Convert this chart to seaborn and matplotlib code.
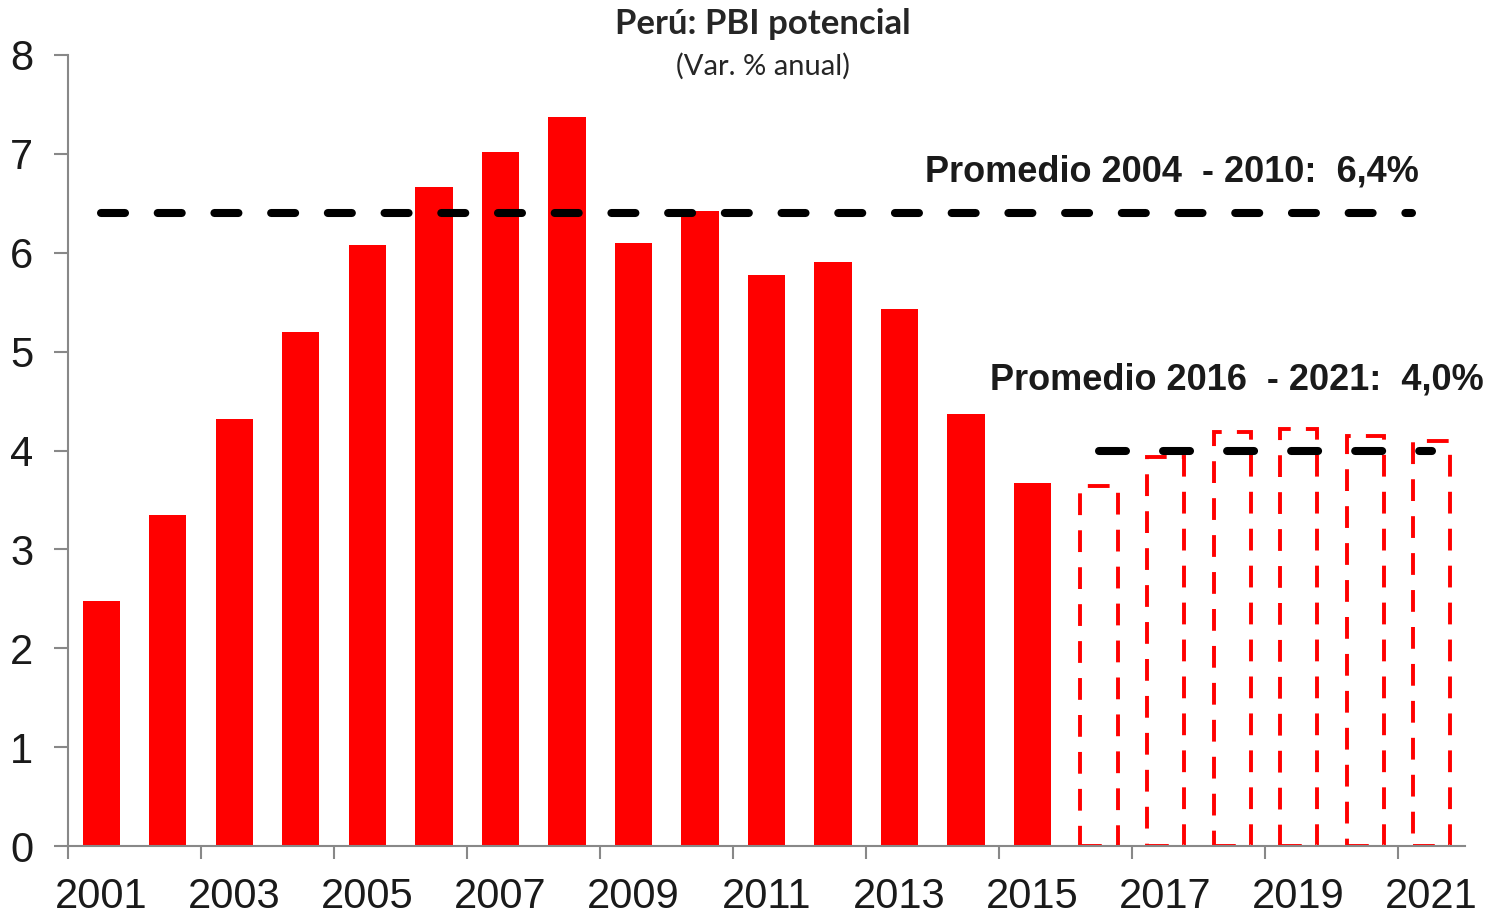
import matplotlib
matplotlib.use("Agg")
import matplotlib.pyplot as plt
import seaborn as sns
import pandas as pd
import numpy as np

years = [str(y) for y in range(2001, 2022)]
valores = [2.48, 3.35, 4.32, 5.20, 6.08, 6.67, 7.02, 7.37, 6.10, 6.42,
           5.77, 5.91, 5.43, 4.37, 3.67, 3.64, 3.93, 4.19, 4.22, 4.15, 4.10]
proyectado = [False] * 15 + [True] * 6

# averages: (start year, end year, value, label)
prom_1 = (2001, 2020.7, 6.4, "Promedio 2004  - 2010:  6,4%")
prom_2 = (2016, 2021, 4.0, "Promedio 2016  - 2021:  4,0%")

df = pd.DataFrame({"year": years, "valor": valores, "proy": proyectado})

sns.set_theme(style="white")
plt.rcParams['font.family'] = ['Liberation Sans', 'DejaVu Sans']

fig = plt.figure(figsize=(14.89, 9.16), dpi=100)
ax = fig.add_axes([68/1489, 1-846/916, (1465-68)/1489, (846-55)/916])

sns.barplot(data=df, x="year", y="valor", color="#FF0000", saturation=1,
            width=0.56, ax=ax, order=years)

for patch, p in zip(ax.patches, proyectado):
    patch.set_linewidth(0)
    if p:
        patch.set_facecolor("none")
        patch.set_edgecolor("#FF0000")
        patch.set_linewidth(2.8)
        patch.set_linestyle((0, (5.6, 3.9)))

first = int(years[0])
styles = [(0, (2.98, 4.06)), (0, (3.35, 4.6))]
for (y0, y1, v, lab), tx, ty, ls in [(prom_1, 19.8, 6.82, styles[0]),
                                     (prom_2, 20.78, 4.71, styles[1])]:
    ax.plot([y0 - first, y1 - first], [v, v], color="black", lw=5.8,
            linestyle=ls, dash_capstyle="round", zorder=5)
    ax.text(tx, ty, lab, ha="right", va="center", fontsize=26,
            fontweight="bold", color="#1a1a1a", clip_on=False)

ax.set_xlim(-0.5, 20.5)
ax.set_ylim(0, 8)
ax.set_yticks(range(0, 9))
ax.set_xticks(range(0, 21, 2))
ax.set_xticklabels(years[::2])
ax.set_xticks(np.arange(-0.5, 20, 2), minor=True)
ax.tick_params(axis="x", which="major", length=0, pad=22, labelsize=30,
               labelcolor="#1a1a1a")
ax.tick_params(axis="x", which="minor", bottom=True, length=9, width=1.5,
               color="#888888", direction="out")
ax.tick_params(axis="y", left=True, length=10, width=1.5, color="#888888",
               direction="out", pad=15, labelsize=30, labelcolor="#1a1a1a")
ax.set_xlabel("")
ax.set_ylabel("")
for s in ["top", "right"]:
    ax.spines[s].set_visible(False)
for s in ["left", "bottom"]:
    ax.spines[s].set_color("#888888")
    ax.spines[s].set_linewidth(1.5)
ax.grid(False)

fig.text(763/1489, 1-24/916, "Perú: PBI potencial", ha="center", va="center",
         fontsize=25, fontweight="bold", family=["Lato", "DejaVu Sans"])
fig.text(763/1489, 1-66/916, "(Var. % anual)", ha="center", va="center",
         fontsize=21, family=["Lato", "DejaVu Sans"])

fig.savefig("out.png", dpi=100)
